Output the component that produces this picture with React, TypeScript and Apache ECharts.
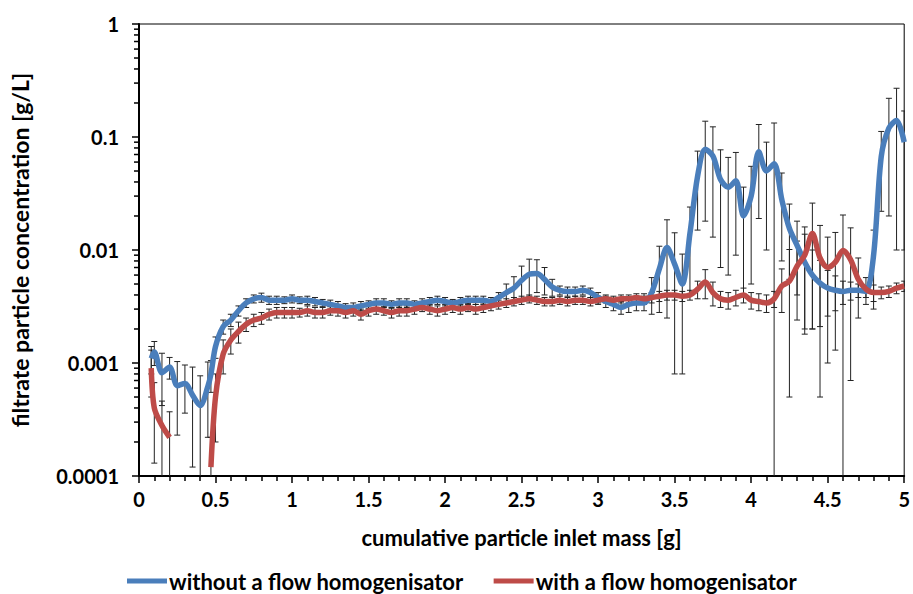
import React, { useEffect, useRef } from "react";
import * as echarts from "echarts";

// cumulative particle inlet mass [g]
const massX = [
  0.08, 0.1, 0.15, 0.2, 0.25, 0.3, 0.35, 0.4, 0.45, 0.47,
  0.5, 0.55, 0.6, 0.65, 0.7, 0.75, 0.8, 0.85, 0.9, 0.95,
  1.0, 1.05, 1.1, 1.15, 1.2, 1.25, 1.3, 1.35, 1.4, 1.45,
  1.5, 1.55, 1.6, 1.65, 1.7, 1.75, 1.8, 1.85, 1.9, 1.95,
  2.0, 2.05, 2.1, 2.15, 2.2, 2.25, 2.3, 2.35, 2.4, 2.45,
  2.5, 2.55, 2.6, 2.65, 2.7, 2.75, 2.8, 2.85, 2.9, 2.95,
  3.0, 3.05, 3.1, 3.15, 3.2, 3.25, 3.3, 3.35, 3.4, 3.45,
  3.5, 3.55, 3.6, 3.65, 3.7, 3.75, 3.8, 3.85, 3.9, 3.95,
  4.0, 4.05, 4.1, 4.15, 4.2, 4.25, 4.3, 4.35, 4.4, 4.45,
  4.5, 4.55, 4.6, 4.65, 4.7, 4.75, 4.8, 4.85, 4.9, 4.95,
  5.0,
];

// without a flow homogenisator [g/L]
const withoutValues = [
  0.0011, 0.00125, 0.00082, 0.00092, 0.00063, 0.00066, 0.00052, 0.00042, 0.00062, 0.0008,
  0.0014, 0.0021, 0.0024, 0.0029, 0.0034, 0.0037, 0.0038, 0.0036, 0.0036, 0.0036,
  0.0037, 0.0036, 0.0036, 0.0035, 0.0034, 0.0033, 0.0032, 0.0031, 0.0031, 0.0032,
  0.0033, 0.0034, 0.0034, 0.0033, 0.0034, 0.0034, 0.0033, 0.0034, 0.0035, 0.0036,
  0.0035, 0.0034, 0.0035, 0.0036, 0.0036, 0.0036, 0.0035, 0.0038, 0.0042, 0.0046,
  0.0054, 0.0061, 0.0062, 0.0055, 0.0047, 0.0044, 0.0043, 0.0043, 0.0044, 0.0042,
  0.0038, 0.0035, 0.0033, 0.0031, 0.0033, 0.0034, 0.0034, 0.0042, 0.0068, 0.0105,
  0.0075, 0.005, 0.014, 0.045, 0.078, 0.068, 0.042, 0.036, 0.041, 0.02,
  0.03, 0.074, 0.05, 0.058, 0.028, 0.0155, 0.011, 0.0078, 0.006, 0.0051,
  0.0046, 0.0044, 0.0043, 0.0044, 0.0044, 0.0043, 0.009, 0.067, 0.12, 0.14,
  0.09,
];
const withoutErrors = [
  0.0003, 0.0003, 0.0004, 0.0002, 0.0004, 0.0003, 0.0004, 0.00035, 0.0004, 0.00025,
  0.0003, 0.0003, 0.0003, 0.0003, 0.0003, 0.0003, 0.00035, 0.0003, 0.0003, 0.00025,
  0.0003, 0.00025, 0.0003, 0.0003, 0.00025, 0.0003, 0.0003, 0.00025, 0.0003, 0.0003,
  0.00025, 0.0003, 0.0003, 0.00025, 0.0003, 0.0003, 0.00025, 0.0003, 0.0003, 0.0003,
  0.0003, 0.00025, 0.0003, 0.0003, 0.0003, 0.0003, 0.0003, 0.0004, 0.0008, 0.0012,
  0.0018, 0.0022, 0.002, 0.0015, 0.0008, 0.0004, 0.0004, 0.0004, 0.0004, 0.0004,
  0.0004, 0.0004, 0.0004, 0.0004, 0.0005, 0.0005, 0.0005, 0.0015, 0.004, 0.008,
  0.0067, 0.0042, 0.01, 0.03, 0.06, 0.055, 0.035, 0.03, 0.032, 0.016,
  0.025, 0.055, 0.04, 0.075, 0.02, 0.01, 0.007, 0.006, 0.004, 0.003,
  0.002, 0.0015, 0.001, 0.0008, 0.0006, 0.0005, 0.006, 0.045, 0.1, 0.13,
  0.08,
];

// with a flow homogenisator [g/L]
const withValues = [
  0.0009, 0.0004, 0.00028, 0.00022, null, null, null, null, null, 0.00012,
  0.0005, 0.0012, 0.0016, 0.0019, 0.0022, 0.0024, 0.0025, 0.0027, 0.0028, 0.0028,
  0.0028, 0.0028, 0.0029, 0.0028, 0.0028, 0.0029, 0.0029, 0.0028, 0.0029, 0.0027,
  0.0029, 0.003, 0.0029, 0.0028, 0.0029, 0.0029, 0.003, 0.0031, 0.003, 0.0029,
  0.003, 0.0031, 0.003, 0.0031, 0.003, 0.0031, 0.0032, 0.0033, 0.0034, 0.0035,
  0.0036, 0.0037, 0.0036, 0.0035, 0.0035, 0.0036, 0.0035, 0.0036, 0.0036, 0.0035,
  0.0036, 0.0037, 0.0036, 0.0037, 0.0037, 0.0038, 0.0037, 0.0038, 0.0039, 0.004,
  0.004, 0.0039, 0.004, 0.0045, 0.0052, 0.0042, 0.0037, 0.0036, 0.0038, 0.004,
  0.0036, 0.0035, 0.0034, 0.0037, 0.0048, 0.0053, 0.0072, 0.009, 0.014, 0.0085,
  0.007, 0.0078, 0.0099, 0.0082, 0.0055, 0.0045, 0.0042, 0.0042, 0.0043, 0.0046,
  0.0048,
];
const withErrors = [
  0.0004, 0.00027, 0.00018, 0.00015, null, null, null, null, null, 0.0001,
  0.0003, 0.0004, 0.0004, 0.0004, 0.0003, 0.0003, 0.0003, 0.0003, 0.0003, 0.0003,
  0.0003, 0.00025, 0.0003, 0.0003, 0.0003, 0.00025, 0.0003, 0.0003, 0.0003, 0.0003,
  0.0003, 0.0003, 0.00025, 0.0003, 0.0003, 0.0003, 0.0003, 0.00025, 0.0003, 0.0003,
  0.0003, 0.0003, 0.0003, 0.00025, 0.0003, 0.0003, 0.0003, 0.0003, 0.0003, 0.0003,
  0.0003, 0.0003, 0.0003, 0.0003, 0.0003, 0.0003, 0.0003, 0.0003, 0.0003, 0.0003,
  0.0003, 0.0003, 0.0003, 0.0003, 0.0003, 0.0003, 0.0004, 0.0004, 0.0004, 0.0004,
  0.0004, 0.0004, 0.0004, 0.0008, 0.0015, 0.001, 0.0006, 0.0006, 0.0006, 0.0006,
  0.0006, 0.0006, 0.0006, 0.0006, 0.002, 0.0048, 0.0048, 0.007, 0.012, 0.008,
  0.006, 0.0065, 0.0105, 0.0075, 0.003, 0.0012, 0.0007, 0.0005, 0.0005, 0.0005,
  0.0005,
];

const seriesNames = ["without a flow homogenisator", "with a flow homogenisator"];
const yTickValues = [0.0001, 0.001, 0.01, 0.1, 1];
const yTickLabels = ["0.0001", "0.001", "0.01", "0.1", "1"];
const yMinorMantissas = [2, 3, 4, 5, 6, 7, 8, 9];

const Y_MIN = 0.0001;
const Y_MAX = 1;
const FONT = "Lato";
const BLUE = "#4A7EBB";
const RED = "#BE4B48";

function lineData(values: (number | null)[]) {
  return massX.map((x, i) => [x, values[i] == null ? "-" : values[i]]);
}

function errData(values: (number | null)[], errors: (number | null)[]) {
  const out: number[][] = [];
  massX.forEach((x, i) => {
    const v = values[i];
    const e = errors[i];
    if (v != null && e != null) out.push([x, v, e]);
  });
  return out;
}

function renderErrorBar(params: any, api: any) {
  const x = api.value(0);
  const v = api.value(1);
  const e = api.value(2);
  const hi = v + e;
  const lo = v - e;
  const hiOk = hi <= Y_MAX;
  const loOk = lo > Y_MIN;
  const top = api.coord([x, hiOk ? hi : Y_MAX]);
  const bot = api.coord([x, loOk ? lo : Y_MIN]);
  const cw = 3;
  const style = { stroke: "#222", lineWidth: 1 };
  const children: any[] = [
    { type: "line", shape: { x1: top[0], y1: top[1], x2: bot[0], y2: bot[1] }, style },
  ];
  if (hiOk)
    children.push({ type: "line", shape: { x1: top[0] - cw, y1: top[1], x2: top[0] + cw, y2: top[1] }, style });
  if (loOk)
    children.push({ type: "line", shape: { x1: bot[0] - cw, y1: bot[1], x2: bot[0] + cw, y2: bot[1] }, style });
  return { type: "group", children };
}

export default function App() {
  const ref = useRef<HTMLDivElement>(null);
  useEffect(() => {
    if (!ref.current) return;
    const chart = echarts.init(ref.current, null, { renderer: "svg" });

    const minorTicks: number[][] = [];
    yTickValues.slice(0, -1).forEach((d) => {
      yMinorMantissas.forEach((m) => minorTicks.push([0, m * d]));
    });

    const option: any = {
      animation: false,
      backgroundColor: "#fff",
      textStyle: { fontFamily: FONT },
      grid: {
        left: 137,
        right: 3,
        top: 24,
        bottom: 118,
        show: true,
        borderColor: "#000",
        borderWidth: 1,
      },
      legend: {
        data: seriesNames,
        left: 122,
        top: 565,
        icon: "rect",
        itemWidth: 40,
        itemHeight: 5,
        itemGap: 30,
        textStyle: { fontFamily: FONT, fontWeight: "bold", fontSize: 22, color: "#000", padding: [0, 0, 0, -3] },
      },
      xAxis: {
        type: "value",
        min: 0,
        max: 5,
        interval: 0.5,
        name: "cumulative particle inlet mass [g]",
        nameLocation: "middle",
        nameGap: 50,
        nameTextStyle: { fontFamily: FONT, fontWeight: "bold", fontSize: 22, color: "#000" },
        axisLine: { onZero: false, lineStyle: { color: "#000", width: 2 } },
        axisTick: { show: true, length: 7, lineStyle: { color: "#000", width: 1.5 } },
        minorTick: { show: true, splitNumber: 5, length: 5, lineStyle: { color: "#000", width: 1.5 } },
        axisLabel: { fontFamily: FONT, fontWeight: "bold", fontSize: 20, color: "#000", margin: 13 },
        splitLine: { show: false },
      },
      yAxis: {
        type: "log",
        logBase: 10,
        min: Y_MIN,
        max: Y_MAX,
        name: "filtrate particle concentration [g/L]",
        nameLocation: "middle",
        nameRotate: 90,
        nameGap: 108,
        nameTextStyle: { fontFamily: FONT, fontWeight: "bold", fontSize: 23, color: "#000" },
        axisLine: { lineStyle: { color: "#000", width: 2 } },
        axisTick: { show: true, length: 7, lineStyle: { color: "#000", width: 1.5 } },
        axisLabel: {
          fontFamily: FONT,
          fontWeight: "bold",
          fontSize: 20,
          color: "#000",
          margin: 20,
          formatter: (val: number) => {
            const idx = yTickValues.findIndex((t) => Math.abs(Math.log10(t) - Math.log10(val)) < 1e-6);
            return idx >= 0 ? yTickLabels[idx] : "";
          },
        },
        splitLine: { show: false },
      },
      series: [
        {
          type: "custom",
          name: "minorTicks",
          data: minorTicks,
          encode: { x: 0, y: 1 },
          clip: false,
          silent: true,
          z: 5,
          renderItem: (params: any, api: any) => {
            const p = api.coord([api.value(0), api.value(1)]);
            return {
              type: "line",
              shape: { x1: p[0] - 5, y1: p[1], x2: p[0], y2: p[1] },
              style: { stroke: "#000", lineWidth: 1.5 },
            };
          },
        },
        {
          type: "custom",
          name: "errWithout",
          data: errData(withoutValues, withoutErrors),
          encode: { x: 0, y: 1 },
          clip: true,
          silent: true,
          z: 1,
          renderItem: renderErrorBar,
        },
        {
          type: "custom",
          name: "errWith",
          data: errData(withValues, withErrors),
          encode: { x: 0, y: 1 },
          clip: true,
          silent: true,
          z: 1,
          renderItem: renderErrorBar,
        },
        {
          type: "line",
          name: seriesNames[0],
          data: lineData(withoutValues),
          smooth: 0.3,
          showSymbol: false,
          symbol: "none",
          connectNulls: false,
          color: BLUE,
          lineStyle: { color: BLUE, width: 5.5 },
          z: 3,
        },
        {
          type: "line",
          name: seriesNames[1],
          data: lineData(withValues),
          smooth: 0.3,
          showSymbol: false,
          symbol: "none",
          connectNulls: false,
          color: RED,
          lineStyle: { color: RED, width: 5.5 },
          z: 4,
        },
      ],
    };
    chart.setOption(option);
    return () => chart.dispose();
  }, []);

  return (
    <div
      ref={ref}
      style={{ position: "fixed", left: 0, top: 0, width: 913, height: 594, background: "#fff" }}
    />
  );
}
